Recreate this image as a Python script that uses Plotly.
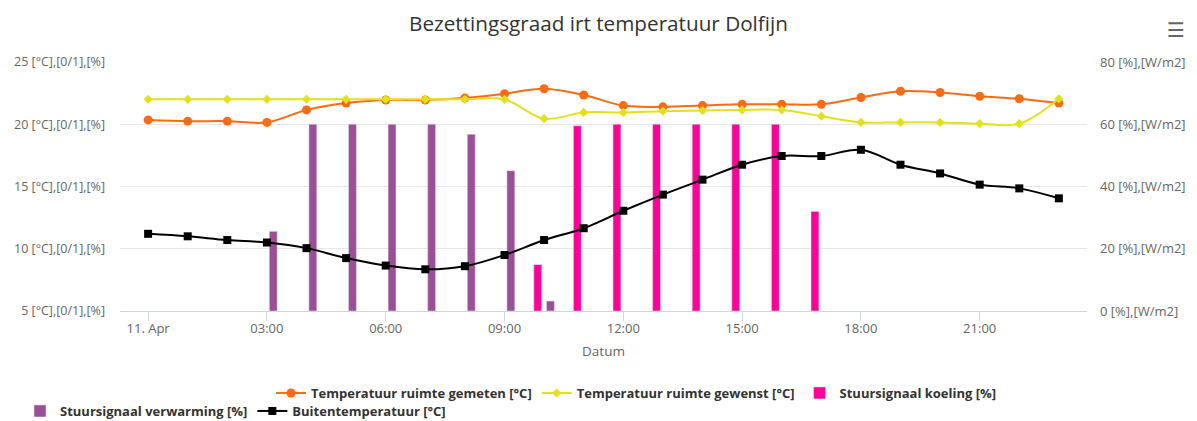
import plotly.graph_objects as go

# Uur van de dag (11 april)
uren = list(range(24))

# Temperaturen [°C] (linker as)
temp_gemeten = [20.35, 20.25, 20.25, 20.15, 21.15, 21.7, 21.95, 21.95, 22.1, 22.45, 22.85, 22.35,
                21.5, 21.4, 21.5, 21.6, 21.6, 21.6, 22.15, 22.65, 22.55, 22.25, 22.05, 21.7]
temp_gewenst = [22, 22, 22, 22, 22, 22, 22, 22, 22, 22, 20.45, 20.95,
                20.95, 21.05, 21.1, 21.15, 21.15, 20.65, 20.15, 20.15, 20.15, 20.05, 20.05, 22.05]
buiten_temp = [11.2, 11.0, 10.7, 10.5, 10.05, 9.25, 8.65, 8.35, 8.6, 9.5, 10.7, 11.65,
               13.05, 14.35, 15.55, 16.75, 17.45, 17.45, 17.95, 16.75, 16.05, 15.15, 14.85, 14.05]

# Stuursignalen [%] (rechter as)
koeling = [None] * 10 + [14.9, 59.5, 60, 60, 60, 60, 60, 32] + [None] * 6
verwarming = [None] * 3 + [25.6, 60, 60, 60, 60, 56.8, 45.1, 3.2] + [None] * 13

# As-labels
x_ticks = [0, 3, 6, 9, 12, 15, 18, 21]
x_labels = ["11. Apr", "03:00", "06:00", "09:00", "12:00", "15:00", "18:00", "21:00"]
links_ticks = [5, 10, 15, 20, 25]
rechts_ticks = [0, 20, 40, 60, 80]

FONT = "Open Sans"
GRID = "#e6e6e6"
AXIS = "#ccd6eb"

fig = go.Figure()

# bars on the main axis (right, %), lines on the overlay (left, °C) so they draw on top
fig.add_bar(x=uren, y=koeling, name="Stuursignaal koeling [%]", marker_color="#ff0099",
            width=0.2, offset=-0.26, yaxis="y", legend="legend", legendrank=3)
fig.add_bar(x=uren, y=verwarming, name="Stuursignaal verwarming [%]", marker_color="#9b4f96",
            width=0.2, offset=0.06, yaxis="y", legend="legend2", legendrank=4)

fig.add_scatter(x=uren, y=temp_gemeten, name="Temperatuur ruimte gemeten [°C]", yaxis="y2",
                mode="lines+markers", line=dict(color="#ff6a13", width=2, shape="spline"),
                marker=dict(symbol="circle", size=9), legend="legend", legendrank=1)
fig.add_scatter(x=uren, y=temp_gewenst, name="Temperatuur ruimte gewenst [°C]", yaxis="y2",
                mode="lines+markers", line=dict(color="#e2e21b", width=2, shape="spline"),
                marker=dict(symbol="diamond", size=7), legend="legend", legendrank=2)
fig.add_scatter(x=uren, y=buiten_temp, name="Buitentemperatuur [°C]", yaxis="y2",
                mode="lines+markers", line=dict(color="#000000", width=2, shape="spline"),
                marker=dict(symbol="square", size=8), legend="legend2", legendrank=5)

legend_font = dict(family=FONT, size=13, color="#333333", weight="bold")

fig.update_layout(
    width=1197, height=421,
    margin=dict(l=120, r=110, t=62, b=110, autoexpand=False),
    paper_bgcolor="white", plot_bgcolor="white",
    barmode="overlay",
    font=dict(family=FONT, color="#666666"),
    title=dict(text="Bezettingsgraad irt temperatuur Dolfijn", x=0.5, xref="container",
               y=1 - 24 / 421, yanchor="middle",
               font=dict(family=FONT, size=20.7, color="#333333")),
    xaxis=dict(range=[-0.71, 23.71], tickvals=x_ticks, ticktext=x_labels,
               showgrid=False, zeroline=False, showline=True, linecolor=AXIS, linewidth=1,
               ticks="outside", ticklen=9, tickcolor=AXIS, ticklabelstandoff=-4,
               tickfont=dict(size=13, color="#666666"),
               title=dict(text="Datum", font=dict(size=13.5, color="#666666"), standoff=10)),
    yaxis=dict(range=[0, 80], side="right", tickvals=rechts_ticks,
               ticktext=[f"{v} [%],[W/m2]" for v in rechts_ticks],
               showgrid=True, gridcolor=GRID, zeroline=False, ticklabelstandoff=12,
               tickfont=dict(size=13, color="#666666")),
    yaxis2=dict(range=[5, 25], side="left", overlaying="y", tickvals=links_ticks,
                ticktext=[f"{v} [°C],[0/1],[%]" for v in links_ticks],
                showgrid=False, zeroline=False, ticklabelstandoff=14,
                tickfont=dict(size=12.5, color="#666666")),
    legend=dict(orientation="h", x=(271 - 120) / 967, xanchor="left",
                y=(311 - 378) / 249, yanchor="top", font=legend_font,
                traceorder="normal", bgcolor="rgba(0,0,0,0)"),
    legend2=dict(orientation="h", x=(20 - 120) / 967, xanchor="left",
                 y=(311 - 396) / 249, yanchor="top", font=legend_font,
                 traceorder="normal", bgcolor="rgba(0,0,0,0)"),
    showlegend=True,
)

# export menu icon (top right)
fig.add_annotation(text="☰", xref="paper", yref="paper", x=(1187 - 120) / 967,
                   y=(311 - 30) / 249, yanchor="middle", showarrow=False,
                   font=dict(family="DejaVu Sans", size=20, color="#666666"))

# page body has an 8px default margin, drop it so the figure fills the window
fig.write_html("out.html", config={"displayModeBar": False},
               post_script="document.body.style.margin='0';")
